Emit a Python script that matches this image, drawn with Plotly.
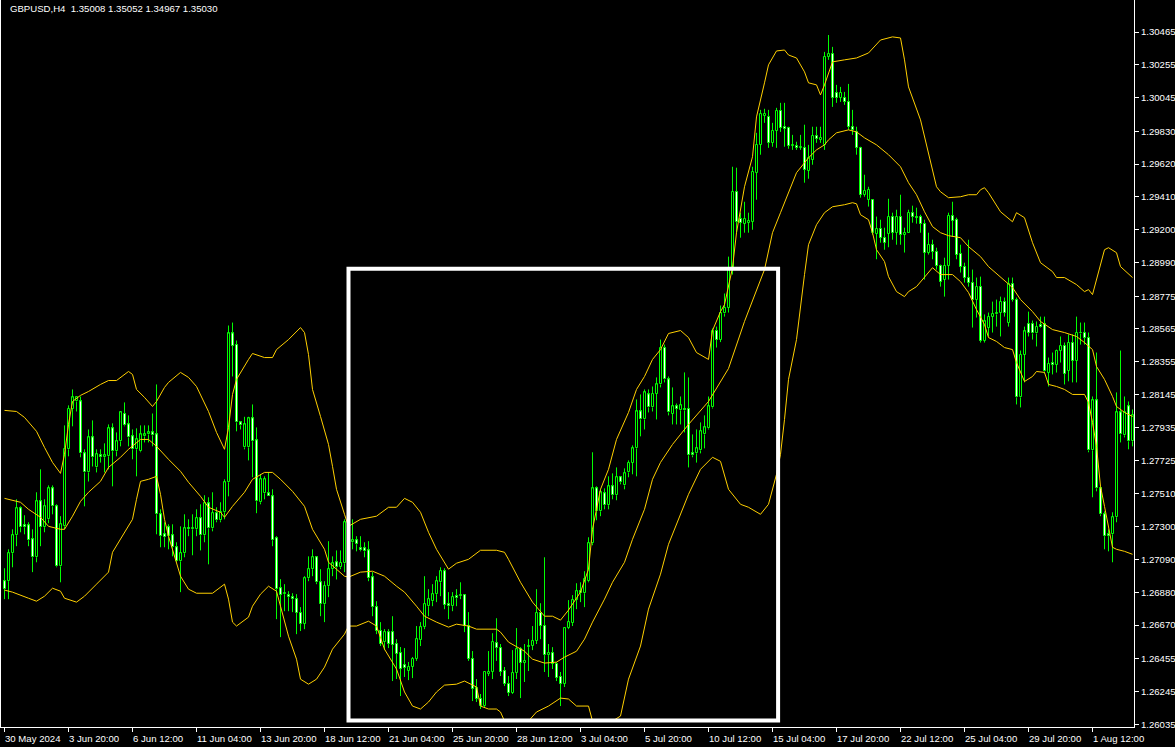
import plotly.graph_objects as go

# ---------------- data ----------------
opens = [1.26951,1.26951,1.27130,1.27245,1.27417,1.27309,1.27309,1.27219,1.27104,1.27462,
1.27296,1.27347,1.27545,1.27430,1.27046,1.27302,1.27795,1.28056,1.28101,1.28101,
1.27769,1.27647,1.27871,1.27679,1.27756,1.27744,1.27750,1.27929,1.27782,1.27846,
1.28024,1.27954,1.27878,1.27795,1.27782,1.27878,1.27890,1.27903,1.27890,1.27379,
1.27251,1.27296,1.27245,1.27168,1.27078,1.27130,1.27289,1.27283,1.27283,1.27354,
1.27245,1.27449,1.27289,1.27386,1.27341,1.27392,1.27584,1.28536,1.28465,1.27967,
1.27807,1.27807,1.27993,1.27852,1.27456,1.27513,1.27513,1.27494,1.27226,1.26906,
1.26868,1.26862,1.26849,1.26836,1.26747,1.26677,1.26970,1.27028,1.27104,1.26944,
1.26804,1.26919,1.27028,1.27072,1.27040,1.27065,1.27315,1.27200,1.27213,1.27162,
1.27162,1.27148,1.26976,1.26785,1.26632,1.26561,1.26625,1.26625,1.26549,1.26491,
1.26414,1.26376,1.26402,1.26454,1.26574,1.26657,1.26791,1.26823,1.26868,1.26944,
1.27015,1.26804,1.26791,1.26855,1.26855,1.26862,1.26664,1.26454,1.26267,1.26197,
1.26152,1.26357,1.26370,1.26555,1.26523,1.26376,1.26293,1.26235,1.26363,1.26516,
1.26428,1.26529,1.26536,1.26568,1.26747,1.26664,1.26478,1.26491,1.26421,1.26338,
1.26293,1.26651,1.26683,1.26830,1.26887,1.26874,1.26951,1.27194,1.27545,1.27398,
1.27513,1.27437,1.27558,1.27501,1.27616,1.27564,1.27647,1.27710,1.27801,1.28037,
1.27986,1.28146,1.28063,1.28152,1.28210,1.28446,1.28242,1.28024,1.28070,1.28044,
1.28056,1.28056,1.27769,1.27769,1.27788,1.27890,1.27929,1.28063,1.28555,1.28497,
1.28664,1.28702,1.28957,1.29443,1.29271,1.29239,1.29245,1.29251,1.29565,1.29743,
1.29929,1.29923,1.29756,1.29833,1.29961,1.29859,1.29852,1.29737,1.29737,1.29724,
1.29724,1.29578,1.29647,1.29801,1.29775,1.29743,1.30306,1.30325,1.30076,1.30044,
1.30044,1.30018,1.29859,1.29826,1.29724,1.29424,1.29392,1.29392,1.29175,1.29207,
1.29149,1.29175,1.29284,1.29181,1.29284,1.29168,1.29181,1.29309,1.29284,1.29284,
1.29239,1.29054,1.29104,1.29060,1.28970,1.28881,1.28970,1.29290,1.29264,1.29047,
1.28964,1.28894,1.28862,1.28753,1.28836,1.28491,1.28574,1.28644,1.28658,1.28670,
1.28740,1.28606,1.28855,1.28753,1.28127,1.28401,1.28599,1.28599,1.28536,1.28593,
1.28599,1.28286,1.28350,1.28337,1.28427,1.28459,1.28299,1.28478,1.28363,1.28536,
1.28542,1.28510,1.27788,1.28108,1.27545,1.27379,1.27251,1.27251,1.27360,1.28031,
1.27884,1.28070,1.27846]

highs = [1.27034,1.27155,1.27283,1.27475,1.27430,1.27373,1.27328,1.27283,1.27520,1.27667,
1.27475,1.27564,1.27564,1.27443,1.27367,1.27948,1.28076,1.28178,1.28133,1.28133,
1.27795,1.27922,1.27980,1.27795,1.27795,1.27833,1.27954,1.27961,1.27903,1.28037,
1.28095,1.28012,1.27922,1.27929,1.27948,1.27948,1.27948,1.28024,1.28210,1.27411,
1.27328,1.27315,1.27315,1.27200,1.27302,1.27379,1.27347,1.27379,1.27411,1.27443,
1.27501,1.27488,1.27520,1.27424,1.27456,1.27603,1.28587,1.28606,1.28491,1.27974,
1.28003,1.28003,1.28082,1.27935,1.27635,1.27622,1.27647,1.27539,1.27239,1.26964,
1.26932,1.26887,1.26874,1.26868,1.26785,1.26983,1.27110,1.27155,1.27110,1.27028,
1.26951,1.27207,1.27110,1.27148,1.27148,1.27347,1.27334,1.27347,1.27239,1.27239,
1.27200,1.27207,1.27009,1.26823,1.26689,1.26644,1.26644,1.26727,1.26580,1.26530,
1.26523,1.26434,1.26466,1.26664,1.26689,1.26983,1.26900,1.26932,1.26983,1.27040,
1.27034,1.26881,1.26881,1.26900,1.26944,1.26868,1.26753,1.26504,1.26325,1.26229,
1.26370,1.26504,1.26618,1.26714,1.26549,1.26402,1.26344,1.26510,1.26651,1.26529,
1.26549,1.26580,1.26664,1.26900,1.26810,1.27104,1.26549,1.26529,1.26434,1.26370,
1.26657,1.26830,1.26862,1.26938,1.26944,1.27015,1.27232,1.27776,1.27558,1.27539,
1.27545,1.27622,1.27641,1.27679,1.27622,1.27673,1.27724,1.27820,1.28114,1.28146,
1.28178,1.28178,1.28197,1.28255,1.28497,1.28465,1.28261,1.28191,1.28088,1.28133,
1.28287,1.28255,1.27890,1.27922,1.27967,1.28012,1.28133,1.28568,1.28580,1.28715,
1.28792,1.29028,1.29603,1.29597,1.29309,1.29379,1.29309,1.29603,1.29820,1.29967,
1.29974,1.29967,1.29884,1.29980,1.30012,1.30012,1.29859,1.29807,1.29763,1.29807,
1.29872,1.29743,1.29859,1.29859,1.29859,1.30338,1.30446,1.30370,1.30127,1.30114,
1.30082,1.30133,1.29967,1.29859,1.29731,1.29552,1.29475,1.29392,1.29284,1.29264,
1.29213,1.29398,1.29309,1.29328,1.29424,1.29213,1.29328,1.29354,1.29341,1.29296,
1.29264,1.29181,1.29136,1.29085,1.28977,1.29021,1.29309,1.29379,1.29277,1.29104,
1.28989,1.29136,1.28945,1.28894,1.28900,1.28658,1.28670,1.28740,1.28753,1.28772,
1.28766,1.28894,1.28894,1.28766,1.28427,1.28580,1.28676,1.28619,1.28613,1.28644,
1.28644,1.28382,1.28414,1.28433,1.28517,1.28478,1.28530,1.28530,1.28644,1.28606,
1.28606,1.28542,1.28133,1.28414,1.27558,1.27398,1.27283,1.27392,1.28159,1.28427,
1.28133,1.28101,1.28050]

lows = [1.26836,1.26836,1.27040,1.27175,1.27264,1.27251,1.27175,1.27009,1.27072,1.27175,
1.27264,1.27322,1.27379,1.27040,1.26944,1.27283,1.27750,1.27942,1.28037,1.27744,
1.27430,1.27589,1.27685,1.27647,1.27710,1.27647,1.27667,1.27558,1.27750,1.27814,
1.27942,1.27814,1.27731,1.27622,1.27776,1.27839,1.27839,1.27814,1.27251,1.27168,
1.27168,1.27155,1.27110,1.27072,1.26881,1.27104,1.27239,1.27117,1.27239,1.27148,
1.27200,1.27059,1.27270,1.27328,1.27328,1.27347,1.27494,1.28261,1.27910,1.27922,
1.27795,1.27724,1.27616,1.27386,1.27443,1.27475,1.27494,1.27175,1.26708,1.26593,
1.26759,1.26759,1.26753,1.26612,1.26632,1.26644,1.26951,1.26983,1.26932,1.26727,
1.26689,1.26849,1.26983,1.26962,1.27028,1.27009,1.27187,1.27155,1.27142,1.27142,
1.27104,1.26951,1.26727,1.26612,1.26536,1.26510,1.26523,1.26312,1.26325,1.26216,
1.26338,1.26318,1.26331,1.26441,1.26536,1.26644,1.26727,1.26791,1.26817,1.26855,
1.26772,1.26708,1.26759,1.26791,1.26836,1.26625,1.26441,1.26184,1.26178,1.26133,
1.26146,1.26344,1.26325,1.26441,1.26344,1.26280,1.26216,1.26229,1.26325,1.26203,
1.26306,1.26376,1.26510,1.26549,1.26580,1.26370,1.26338,1.26389,1.26312,1.26152,
1.26274,1.26644,1.26664,1.26772,1.26817,1.26785,1.26944,1.27181,1.27341,1.27367,
1.27411,1.27411,1.27475,1.27469,1.27571,1.27539,1.27616,1.27635,1.27622,1.27878,
1.27922,1.28031,1.28037,1.27986,1.28191,1.28223,1.28012,1.27954,1.27954,1.27954,
1.27903,1.27679,1.27744,1.27710,1.27769,1.27801,1.27922,1.28056,1.28446,1.28481,
1.28644,1.28670,1.28913,1.29181,1.29149,1.29181,1.29181,1.29200,1.29392,1.29680,
1.29884,1.29724,1.29731,1.29724,1.29826,1.29731,1.29718,1.29711,1.29711,1.29711,
1.29501,1.29526,1.29616,1.29756,1.29756,1.29711,1.30287,1.29986,1.30012,1.30018,
1.29999,1.29839,1.29807,1.29680,1.29405,1.29411,1.29348,1.29168,1.29011,1.29117,
1.29072,1.29088,1.29136,1.29104,1.29104,1.29054,1.29181,1.29245,1.29239,1.29181,
1.28881,1.29041,1.29011,1.28945,1.28836,1.28772,1.28881,1.29155,1.29011,1.28926,
1.28862,1.28836,1.28574,1.28638,1.28478,1.28478,1.28517,1.28542,1.28580,1.28517,
1.28644,1.28580,1.28740,1.28082,1.28063,1.28223,1.28517,1.28497,1.28453,1.28574,
1.28280,1.28197,1.28274,1.28286,1.28350,1.28210,1.28230,1.28223,1.28223,1.28465,
1.28465,1.27776,1.27488,1.27526,1.27367,1.27155,1.27142,1.27072,1.27328,1.27839,
1.27871,1.27795,1.27814]

closes = [1.26900,1.27130,1.27245,1.27417,1.27296,1.27296,1.27213,1.27104,1.27462,1.27296,
1.27430,1.27545,1.27430,1.27046,1.27315,1.27795,1.28056,1.28127,1.28127,1.27769,
1.27647,1.27871,1.27744,1.27763,1.27744,1.27756,1.27929,1.27782,1.27846,1.28031,
1.27948,1.27871,1.27795,1.27858,1.27890,1.27890,1.27903,1.27884,1.27379,1.27239,
1.27232,1.27239,1.27168,1.27078,1.27130,1.27289,1.27283,1.27289,1.27354,1.27245,
1.27449,1.27289,1.27386,1.27341,1.27392,1.27584,1.28536,1.28459,1.27967,1.27948,
1.27954,1.27993,1.27846,1.27462,1.27603,1.27603,1.27494,1.27213,1.26900,1.26862,
1.26874,1.26849,1.26836,1.26747,1.26677,1.26970,1.27028,1.27104,1.26944,1.26804,
1.26919,1.27028,1.27065,1.27040,1.27069,1.27328,1.27213,1.27213,1.27187,1.27149,
1.27142,1.26970,1.26785,1.26632,1.26549,1.26625,1.26549,1.26542,1.26485,1.26389,
1.26395,1.26402,1.26454,1.26580,1.26657,1.26804,1.26836,1.26868,1.26951,1.27015,
1.26798,1.26791,1.26849,1.26842,1.26862,1.26664,1.26454,1.26261,1.26197,1.26152,
1.26370,1.26370,1.26561,1.26523,1.26370,1.26293,1.26235,1.26363,1.26516,1.26428,
1.26441,1.26536,1.26568,1.26747,1.26664,1.26478,1.26491,1.26421,1.26331,1.26293,
1.26651,1.26689,1.26830,1.26887,1.26874,1.26964,1.27194,1.27545,1.27398,1.27520,
1.27437,1.27558,1.27501,1.27616,1.27584,1.27641,1.27710,1.27801,1.28037,1.27986,
1.28159,1.28063,1.28152,1.28210,1.28446,1.28242,1.28031,1.28070,1.28056,1.28076,
1.28044,1.27756,1.27756,1.27801,1.27910,1.27935,1.28070,1.28555,1.28497,1.28670,
1.28702,1.28945,1.29443,1.29251,1.29245,1.29271,1.29258,1.29571,1.29743,1.29942,
1.29942,1.29756,1.29833,1.29961,1.29852,1.29846,1.29737,1.29743,1.29724,1.29731,
1.29584,1.29660,1.29801,1.29782,1.29788,1.30306,1.30325,1.30044,1.30044,1.30076,
1.30018,1.29859,1.29839,1.29724,1.29424,1.29450,1.29456,1.29181,1.29207,1.29149,
1.29117,1.29284,1.29181,1.29284,1.29168,1.29181,1.29309,1.29284,1.29277,1.29239,
1.29054,1.29104,1.29060,1.28970,1.28868,1.28970,1.29290,1.29258,1.29041,1.28964,
1.28894,1.28862,1.28753,1.28836,1.28491,1.28613,1.28644,1.28663,1.28670,1.28740,
1.28670,1.28855,1.28753,1.28127,1.28401,1.28549,1.28542,1.28536,1.28580,1.28580,
1.28293,1.28344,1.28337,1.28427,1.28459,1.28280,1.28478,1.28363,1.28542,1.28542,
1.28510,1.27788,1.28108,1.27545,1.27379,1.27239,1.27239,1.27360,1.28031,1.27890,
1.28031,1.27846,1.28012]

# Bollinger bands (bar index, price)
upper_idx = [0,3,5,8,10,12,14,15,16,17,19,21,24,26,28,31,32,33,35,37,38,40,41,44,46,48,51,53,55,56,
57,58,61,62,65,67,68,71,74,75,76,77,79,81,82,83,85,86,89,93,96,98,100,102,104,106,108,111,113,116,
119,123,125,126,129,132,135,137,139,141,144,146,147,149,151,153,156,158,160,162,164,166,169,171,173,176,177,179,180,182,
183,185,187,188,190,191,193,195,196,198,200,201,203,204,205,207,210,213,216,219,222,224,225,226,229,231,233,234,236,239,
241,243,244,245,246,249,252,253,255,257,259,262,263,265,268,270,271,272,274,275,276,278,279,282]
upper_val = [1.28044,1.28037,1.27999,1.27910,1.27807,1.27711,1.27641,1.27763,1.27954,1.28101,1.28140,1.28165,1.28210,1.28235,1.28235,1.28293,1.28274,1.28178,1.28127,1.28069,1.28101,1.28191,1.28223,1.28287,1.28255,1.28197,1.28037,1.27903,1.27795,1.27935,
1.28146,1.28242,1.28370,1.28408,1.28382,1.28382,1.28433,1.28497,1.28574,1.28542,1.28401,1.28178,1.28005,1.27826,1.27686,1.27539,1.27379,1.27302,1.27347,1.27367,1.27424,1.27424,1.27481,1.27456,1.27392,1.27264,1.27155,1.27028,1.27066,1.27091,
1.27149,1.27149,1.27136,1.27091,1.26944,1.26817,1.26727,1.26727,1.26702,1.26766,1.26881,1.27028,1.27283,1.27539,1.27667,1.27858,1.28031,1.28178,1.28261,1.28370,1.28433,1.28536,1.28555,1.28510,1.28414,1.28370,1.28555,1.28676,1.28721,1.28957,
1.29181,1.29475,1.29667,1.29922,1.30140,1.30255,1.30344,1.30350,1.30318,1.30299,1.30210,1.30140,1.30127,1.30063,1.30127,1.30274,1.30287,1.30299,1.30331,1.30414,1.30434,1.30427,1.30287,1.30114,1.29903,1.29692,1.29475,1.29443,1.29405,1.29411,
1.29424,1.29424,1.29456,1.29469,1.29437,1.29315,1.29251,1.29309,1.29277,1.29117,1.28989,1.28932,1.28894,1.28894,1.28849,1.28804,1.28817,1.28785,1.28989,1.29072,1.29085,1.29053,1.28964,1.28894]

middle_idx = [0,1,4,6,9,11,14,15,17,19,21,24,26,29,31,34,36,38,40,41,44,46,49,51,54,55,57,60,62,65,
67,69,72,75,77,80,81,85,86,89,92,95,98,100,103,105,108,111,113,116,118,123,124,126,130,132,135,138,140,143,
145,147,150,152,155,157,160,162,164,167,171,176,181,185,190,192,194,196,198,201,203,205,206,208,211,213,215,218,221,224,
226,228,230,232,234,236,239,241,244,246,249,252,254,257,259,262,265,268,270,272,273,275,277,278,280,282]
middle_val = [1.27481,1.27475,1.27456,1.27411,1.27360,1.27302,1.27283,1.27283,1.27367,1.27462,1.27520,1.27590,1.27679,1.27744,1.27795,1.27858,1.27858,1.27814,1.27763,1.27731,1.27654,1.27584,1.27494,1.27424,1.27392,1.27360,1.27430,1.27520,1.27603,1.27647,
1.27647,1.27603,1.27526,1.27430,1.27283,1.27155,1.27072,1.26983,1.26977,1.27009,1.27015,1.26983,1.26919,1.26881,1.26791,1.26727,1.26689,1.26657,1.26676,1.26664,1.26644,1.26644,1.26625,1.26561,1.26503,1.26452,1.26427,1.26433,1.26465,1.26503,
1.26580,1.26689,1.26836,1.26944,1.27072,1.27219,1.27411,1.27603,1.27711,1.27826,1.27954,1.28101,1.28312,1.28613,1.28945,1.29181,1.29309,1.29437,1.29565,1.29660,1.29711,1.29743,1.29775,1.29820,1.29839,1.29826,1.29788,1.29743,1.29680,1.29603,
1.29501,1.29424,1.29315,1.29220,1.29181,1.29162,1.29149,1.29092,1.29028,1.28964,1.28900,1.28830,1.28753,1.28676,1.28613,1.28561,1.28542,1.28517,1.28478,1.28433,1.28325,1.28242,1.28133,1.28069,1.28031,1.28005]

lower_idx = [0,2,6,8,10,12,14,15,18,20,23,26,27,30,32,33,34,36,38,39,40,41,44,46,48,52,55,56,57,58,
61,62,64,66,68,69,71,73,74,76,78,80,82,84,85,86,88,91,93,95,98,100,102,104,106,108,110,113,115,118,
119,121,123,124,125,131,133,136,139,141,143,146,147,152,154,156,159,161,164,166,171,174,177,179,181,184,186,189,191,193,
194,195,196,198,199,200,201,203,205,207,210,212,213,214,216,217,218,220,221,223,225,226,228,230,232,234,237,239,241,243,
245,246,248,250,252,253,254,255,257,258,260,261,263,265,267,270,271,272,273,274,275,276,277,278,280,282]
lower_val = [1.26894,1.26881,1.26842,1.26823,1.26855,1.26906,1.26887,1.26842,1.26817,1.26855,1.26932,1.27009,1.27136,1.27264,1.27347,1.27475,1.27590,1.27603,1.27622,1.27507,1.27347,1.27239,1.26983,1.26900,1.26874,1.26874,1.26932,1.26836,1.26689,1.26664,
1.26721,1.26791,1.26868,1.26919,1.26887,1.26791,1.26599,1.26452,1.26324,1.26292,1.26324,1.26401,1.26516,1.26580,1.26612,1.26664,1.26664,1.26695,1.26664,1.26516,1.26389,1.26242,1.26152,1.26133,1.26178,1.26242,1.26286,1.26292,1.26312,1.26274,
1.26152,1.26133,1.26133,1.26114,1.26056,1.26056,1.26114,1.26152,1.26203,1.26197,1.26152,1.26152,1.26056,1.26056,1.26088,1.26324,1.26536,1.26772,1.26996,1.27187,1.27507,1.27667,1.27744,1.27718,1.27539,1.27443,1.27424,1.27379,1.27443,1.27635,
1.27763,1.27986,1.28242,1.28497,1.28721,1.28913,1.29104,1.29232,1.29309,1.29347,1.29360,1.29373,1.29366,1.29296,1.29264,1.29181,1.29072,1.28996,1.28900,1.28804,1.28772,1.28804,1.28836,1.28900,1.28957,1.28913,1.28913,1.28868,1.28798,1.28689,
1.28593,1.28510,1.28485,1.28446,1.28433,1.28350,1.28287,1.28229,1.28261,1.28293,1.28287,1.28210,1.28197,1.28178,1.28146,1.28146,1.28095,1.27967,1.27814,1.27558,1.27430,1.27302,1.27168,1.27155,1.27142,1.27123]

x_tick_idx = [0,16,32,48,64,80,96,112,128,144,160,176,192,208,224,240,256,272]
x_tick_text = ["30 May 2024","3 Jun 20:00","6 Jun 12:00","11 Jun 04:00","13 Jun 20:00",
               "18 Jun 12:00","21 Jun 04:00","25 Jun 20:00","28 Jun 12:00","3 Jul 04:00",
               "5 Jul 20:00","10 Jul 12:00","15 Jul 04:00","17 Jul 20:00","22 Jul 12:00",
               "25 Jul 04:00","29 Jul 20:00","1 Aug 12:00"]
y_tick_vals = [1.30465,1.30255,1.30045,1.29830,1.29620,1.29410,1.29200,1.28990,1.28775,1.28565,
               1.28355,1.28145,1.27935,1.27725,1.27510,1.27300,1.27090,1.26880,1.26670,1.26455,
               1.26245,1.26035]
header_text = "GBPUSD,H4\u00a0 1.35008 1.35052 1.34967 1.35030"

# highlighted zone (bar index span, price span)
zone_bars = (86.0, 193.4)
zone_prices = (1.26060, 1.28951)

# ---------------- styling ----------------
CANDLE_GREEN = "#00FF00"
BAND_COLOR = "#FFD000"
FONT = "Liberation Sans"
FSIZE = 9.6

n = len(opens)
idx = list(range(n))
body_base, body_h, body_fill = [], [], []
wick_x, wick_y = [], []
for i, (o, h, l, c) in enumerate(zip(opens, highs, lows, closes)):
    top, bot = max(o, c), min(o, c)
    h, l = max(h, top), min(l, bot)
    body_base.append(bot)
    body_h.append(max(top - bot, 0.00003))
    body_fill.append("#000000" if c >= o else "#FFFFFF")
    if h > top:
        wick_x += [i, i, None]
        wick_y += [top, h, None]
    if l < bot:
        wick_x += [i, i, None]
        wick_y += [l, bot, None]

fig = go.Figure()
fig.add_trace(go.Bar(x=idx, y=body_h, base=body_base, width=0.5,
                     marker=dict(color=body_fill, line=dict(color=CANDLE_GREEN, width=1)),
                     hoverinfo="skip"))
fig.add_trace(go.Scatter(x=wick_x, y=wick_y, mode="lines",
                         line=dict(color=CANDLE_GREEN, width=1), hoverinfo="skip"))
for bx, bv in ((upper_idx, upper_val), (middle_idx, middle_val), (lower_idx, lower_val)):
    fig.add_trace(go.Scatter(x=bx, y=bv, mode="lines",
                             line=dict(color=BAND_COLOR, width=1), hoverinfo="skip"))

fig.add_shape(type="rect", xref="x", yref="y",
              x0=zone_bars[0], x1=zone_bars[1], y0=zone_prices[0], y1=zone_prices[1],
              line=dict(color="white", width=4), fillcolor="rgba(0,0,0,0)", layer="above")

annotations = [dict(text=header_text, xref="paper", yref="paper", x=0, y=1,
                    xanchor="left", yanchor="top", xshift=7, yshift=-1, showarrow=False,
                    font=dict(family=FONT, size=FSIZE, color="white"))]
for ti, tt in zip(x_tick_idx, x_tick_text):
    annotations.append(dict(text=tt, xref="x", yref="paper", x=ti, y=0,
                            xanchor="left", yanchor="top", xshift=-2, yshift=-4,
                            showarrow=False, font=dict(family=FONT, size=FSIZE, color="white")))

fig.update_layout(
    width=1175, height=747,
    margin=dict(l=1, r=41, t=0, b=20),
    paper_bgcolor="black", plot_bgcolor="black",
    showlegend=False, bargap=0,
    font=dict(family=FONT, size=FSIZE, color="white"),
    annotations=annotations,
)
fig.update_xaxes(range=[-0.875, 282.375], showgrid=False, zeroline=False,
                 showline=True, linecolor="white", linewidth=1,
                 ticks="outside", ticklen=4, tickcolor="white",
                 tickvals=x_tick_idx, showticklabels=False, fixedrange=True)
fig.update_yaxes(side="right", range=[1.26018, 1.30670], showgrid=False, zeroline=False,
                 showline=True, mirror=True, linecolor="white", linewidth=1,
                 ticks="outside", ticklen=4, tickcolor="white",
                 tickvals=y_tick_vals, ticktext=[f"{v:.5f}" for v in y_tick_vals],
                 tickfont=dict(family=FONT, size=FSIZE, color="white"), fixedrange=True)

fig.write_html("out.html", config={"displayModeBar": False},
               post_script="document.body.style.margin='0px';document.body.style.padding='0px';document.body.style.background='black';")
